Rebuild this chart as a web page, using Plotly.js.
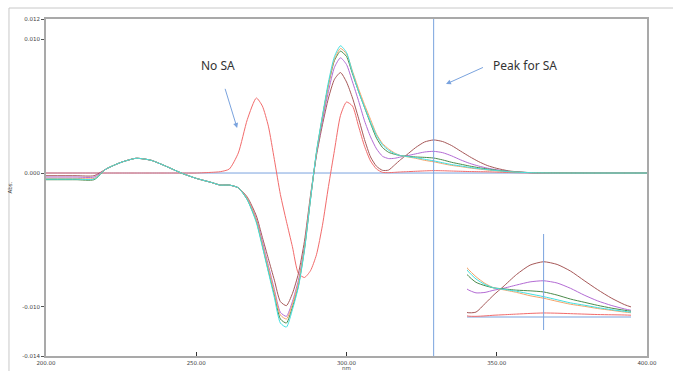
<!DOCTYPE html>
<html>
<head>
<meta charset="utf-8">
<script src="https://cdn.plot.ly/plotly-3.0.1.min.js"></script>
<style>html,body{margin:0;padding:0;background:#fff;}#chart{width:673px;height:371px;}</style>
</head>
<body>
<div id="chart"></div>
<script>
// Wavelength grid (nm)
const wavelength = [200,210,216,220,225,230,235,240,245,250,255,258,261,264,267,270,272,274,276,278,280,282,284,286,288,290,292,294,296,298,300,302,304,306,308,310,312,314,316,318,320,323,326,329,332,335,338,341,344,347,350,354,358,362,370,380,400];

// Absorbance series
const cyanSeries = [-0.00045,-0.00045,-0.00045,0.0003,0.0008,0.0011,0.00095,0.0005,0.0,-0.0004,-0.0007,-0.0009,-0.0009,-0.0011,-0.0020,-0.0037,-0.0055,-0.0074,-0.0093,-0.0112,-0.0115,-0.0102,-0.0085,-0.0058,-0.0020,0.0016,0.0043,0.0068,0.0087,0.0095,0.0090,0.0075,0.0061,0.0049,0.0038,0.0028,0.0021,0.0017,0.00145,0.0013,0.00124,0.00115,0.00103,0.00091,0.00077,0.00063,0.00053,0.00042,0.00033,0.00025,0.00018,0.0001,0.00005,0.00002,0,0,0];
const orangeSeries = [-0.0004,-0.0004,-0.0004,0.0003,0.0008,0.0011,0.00095,0.0005,0.0,-0.0004,-0.0007,-0.0009,-0.0009,-0.0011,-0.0019,-0.0035,-0.0053,-0.0071,-0.0089,-0.0106,-0.0109,-0.0098,-0.0082,-0.0056,-0.0019,0.0015,0.0042,0.0066,0.0085,0.0093,0.0089,0.0076,0.0063,0.0051,0.0040,0.0029,0.0022,0.0018,0.0015,0.0013,0.00122,0.0011,0.00095,0.00084,0.0007,0.00057,0.00048,0.00038,0.0003,0.00022,0.00016,0.0001,0.00005,0.00002,0,0,0];
const greenSeries = [-0.0005,-0.0005,-0.0005,0.0003,0.0008,0.0011,0.00095,0.0005,0.0,-0.0004,-0.0007,-0.0009,-0.0009,-0.0011,-0.0020,-0.0036,-0.0054,-0.0073,-0.0091,-0.0109,-0.0112,-0.0100,-0.0084,-0.0057,-0.0020,0.0015,0.0042,0.0066,0.0084,0.0091,0.0087,0.0074,0.0061,0.0049,0.0037,0.0026,0.0019,0.00155,0.0014,0.0013,0.00126,0.0012,0.00117,0.00112,0.00098,0.0008,0.00066,0.00052,0.0004,0.0003,0.00021,0.00012,0.00006,0.00003,0.00001,0,0];
const purpleSeries = [-0.0003,-0.0003,-0.0003,0.0003,0.0008,0.0011,0.00095,0.0005,0.0,-0.0004,-0.0007,-0.0009,-0.0009,-0.0011,-0.0019,-0.0034,-0.0051,-0.0069,-0.0087,-0.0104,-0.0107,-0.0096,-0.0080,-0.0055,-0.0019,0.0014,0.0039,0.0061,0.0079,0.0086,0.0081,0.0068,0.0054,0.0039,0.0027,0.0018,0.00125,0.00108,0.0011,0.0012,0.00128,0.00143,0.00157,0.00162,0.00152,0.00128,0.00098,0.00072,0.00052,0.00036,0.00024,0.00012,0.00006,0.00002,0,0,0];
const brownSeries = [-0.0002,-0.0002,-0.0002,0.0003,0.0008,0.0011,0.00095,0.0005,0.0,-0.0004,-0.0007,-0.0009,-0.0009,-0.0011,-0.0018,-0.0032,-0.0048,-0.0064,-0.0080,-0.0096,-0.0099,-0.0090,-0.0075,-0.0051,-0.0017,0.0013,0.0036,0.0056,0.0070,0.0075,0.0068,0.0056,0.0041,0.0025,0.0012,0.0005,0.0002,0.00022,0.0006,0.001,0.00135,0.0019,0.00232,0.00247,0.00235,0.00205,0.00163,0.00122,0.00085,0.00055,0.00035,0.00016,0.00007,0.00002,0,0,0];
const noSASeries = [0,0,0,0,0,0,0,0,0,0,0.00005,0.0001,0.0003,0.0015,0.0040,0.0056,0.0050,0.0035,0.0010,-0.0016,-0.0036,-0.0055,-0.0075,-0.0078,-0.0073,-0.0061,-0.0039,-0.0010,0.0017,0.0043,0.0053,0.0050,0.0035,0.0020,0.0009,0.0003,0.00005,0.00003,0.00005,0.00008,0.0001,0.00013,0.00016,0.00018,0.00017,0.00015,0.00013,0.00011,0.0001,0.00009,0.00007,0.00004,0.00002,0.00001,0,0,0];
const baselineNm = [200,400];
const baselineAbs = [0,0];
const peakNm = 329;

const xTickVals = [200,250,300,350,400];
const xTickText = ['200.00','250.00','300.00','350.00','400.00'];
const yTickVals = [-0.01366,-0.010,0,0.010,0.0115];
const yTickText = ['-0.014','-0.010','0.000','0.010','0.012'];

const series = [
  {y: noSASeries, color: '#f26b6b'},
  {y: brownSeries, color: '#a65858'},
  {y: purpleSeries, color: '#b36bd4'},
  {y: greenSeries, color: '#4b8b4b'},
  {y: orangeSeries, color: '#f4a46a'},
  {y: cyanSeries, color: '#40e0e0'}
];
const blue = '#7aa3de';
const yRangeMain = [-0.01366, 0.0115];
const yRangeInset = [-0.00058, 0.00371];

const traces = [];
[['', yRangeMain], ['2', yRangeInset]].forEach(function(p){
  const sfx = p[0];
  traces.push({x: baselineNm, y: baselineAbs, type: 'scatter', mode: 'lines',
    line: {color: blue, width: 1}, xaxis: 'x' + sfx, yaxis: 'y' + sfx, hoverinfo: 'skip'});
  series.forEach(function(s){
    traces.push({x: wavelength, y: s.y, type: 'scatter', mode: 'lines',
      line: {color: s.color, width: 1, shape: 'spline', smoothing: 0.6},
      xaxis: 'x' + sfx, yaxis: 'y' + sfx, hoverinfo: 'skip'});
  });
  // vertical marker at the SA peak wavelength, spanning the axis range
  traces.push({x: [peakNm, peakNm], y: p[1], type: 'scatter', mode: 'lines',
    line: {color: blue, width: 1}, xaxis: 'x' + sfx, yaxis: 'y' + sfx, hoverinfo: 'skip'});
});

const tickFont = {family: 'DejaVu Sans, sans-serif', size: 5.5, color: '#444'};
const frame = '#a9a9a9';

const layout = {
  width: 673, height: 371,
  margin: {l: 46, r: 26, t: 19, b: 15},
  paper_bgcolor: '#ffffff', plot_bgcolor: '#ffffff',
  showlegend: false,
  xaxis: {
    range: [200, 400], tickvals: xTickVals, ticktext: xTickText,
    ticks: 'inside', ticklen: 4, tickcolor: '#333', tickwidth: 1,
    showline: true, linecolor: frame, linewidth: 2, mirror: true,
    showgrid: false, zeroline: false, tickfont: tickFont,
    title: {text: 'nm', font: {family: 'DejaVu Sans, sans-serif', size: 5.5, color: '#444'}, standoff: 0},
    automargin: false
  },
  yaxis: {
    range: yRangeMain, tickvals: yTickVals, ticktext: yTickText,
    ticks: 'outside', ticklen: 3, tickcolor: '#555', tickwidth: 1,
    showline: true, linecolor: frame, linewidth: 2, mirror: true,
    showgrid: false, zeroline: false, tickfont: tickFont,
    title: {text: 'Abs.', font: {family: 'DejaVu Sans, sans-serif', size: 5.5, color: '#444'}, standoff: 9},
    automargin: false
  },
  yaxis3: {
    range: yRangeMain, overlaying: 'y', side: 'right', anchor: 'x',
    tickvals: [-0.010, 0, 0.010], ticks: 'inside', ticklen: 4, tickcolor: '#555',
    showticklabels: false, showline: false, showgrid: false, zeroline: false
  },
  xaxis2: {domain: [0.7005, 0.9734], range: [312, 348.4], anchor: 'y2', visible: false},
  yaxis2: {domain: [0.0772, 0.362], range: yRangeInset, anchor: 'x2', visible: false},
  shapes: [
    {type: 'line', xref: 'paper', yref: 'paper', x0: -0.0616, x1: 1.05, y0: 1.0326, y1: 1.0326,
      line: {color: '#c8c8c8', width: 1}},
    {type: 'line', xref: 'paper', yref: 'paper', x0: -0.0616, x1: -0.0616, y0: -0.05, y1: 1.0326,
      line: {color: '#c8c8c8', width: 1}}
  ],
  annotations: [
    {x: 257.2, y: 0.0080, xref: 'x', yref: 'y', text: 'No SA', showarrow: false,
      font: {family: 'Noto Sans, sans-serif', size: 12, color: '#333'}},
    {x: 263.6, y: 0.00336, xref: 'x', yref: 'y', text: ' ', showarrow: true,
      ax: -15, ay: -49, arrowcolor: blue, arrowwidth: 1, arrowhead: 2, arrowsize: 1, standoff: 0, startstandoff: 0},
    {x: 359.4, y: 0.0080, xref: 'x', yref: 'y', text: 'Peak for SA', showarrow: false,
      font: {family: 'Noto Sans, sans-serif', size: 12, color: '#333'}},
    {x: 333.1, y: 0.00664, xref: 'x', yref: 'y', text: ' ', showarrow: true,
      ax: 40, ay: -18, arrowcolor: blue, arrowwidth: 1, arrowhead: 2, arrowsize: 1, standoff: 0, startstandoff: 0}
  ]
};

Plotly.newPlot('chart', traces, layout, {staticPlot: true, displayModeBar: false});
</script>
</body>
</html>
